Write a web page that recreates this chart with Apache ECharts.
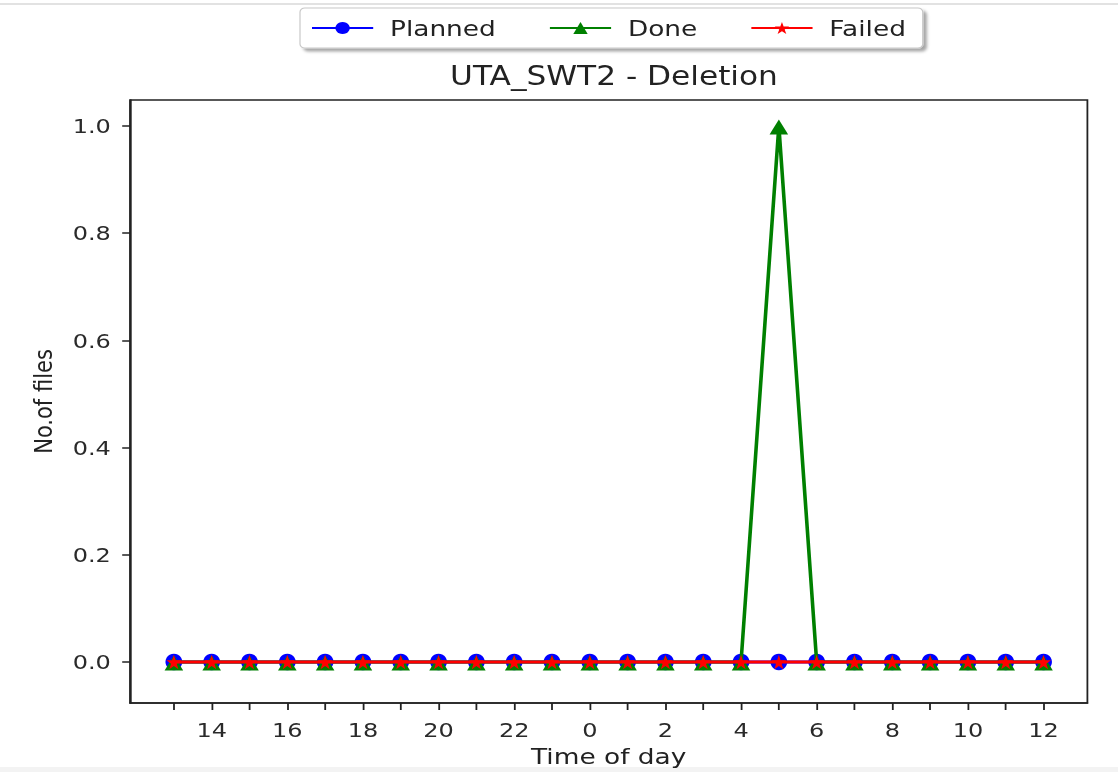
<!DOCTYPE html>
<html>
<head>
<meta charset="utf-8">
<title>UTA_SWT2 - Deletion</title>
<script src="https://cdn.jsdelivr.net/npm/echarts@6/dist/echarts.min.js"></script>
<style>
  html, body { margin: 0; padding: 0; background: #fff; overflow: hidden; }
  /* the source picture is stretched sideways, so the chart is drawn narrower and widened */
  #chart { width: 931.67px; height: 772px; transform: scaleX(1.2); transform-origin: 0 0; }
</style>
</head>
<body>
<div id="chart"></div>
<script>
// hours shown on the x axis, one point per hour
var hours = [13, 14, 15, 16, 17, 18, 19, 20, 21, 22, 23, 0, 1, 2, 3, 4, 5, 6, 7, 8, 9, 10, 11, 12];
var planned = [0, 0, 0, 0, 0, 0, 0, 0, 0, 0, 0, 0, 0, 0, 0, 0, 0, 0, 0, 0, 0, 0, 0, 0];
var done    = [0, 0, 0, 0, 0, 0, 0, 0, 0, 0, 0, 0, 0, 0, 0, 0, 1, 0, 0, 0, 0, 0, 0, 0];
var failed  = [0, 0, 0, 0, 0, 0, 0, 0, 0, 0, 0, 0, 0, 0, 0, 0, 0, 0, 0, 0, 0, 0, 0, 0];
var yTicks = [0, 0.2, 0.4, 0.6, 0.8, 1.0];

var stretch = 1.2;
var textColor = '#2a2a2a';
var font = 'DejaVu Sans';

// pair each value with its hour index
var toPoints = function (arr) {
  var out = [];
  for (var i = 0; i < arr.length; i++) {
    out.push([i, arr[i]]);
  }
  return out;
};

var allIdx = [], labelIdx = [];
for (var i = 0; i < hours.length; i++) {
  allIdx.push(i);
  if (hours[i] % 2 === 0) labelIdx.push(i);
}

var chart = echarts.init(document.getElementById('chart'), null, { renderer: 'svg' });

var option = {
  animation: false,
  backgroundColor: '#fff',
  textStyle: { fontFamily: font },
  title: {
    text: 'UTA_SWT2 - Deletion',
    left: 608 / stretch,
    textAlign: 'center',
    top: 58,
    textStyle: { fontFamily: font, fontSize: 26, fontWeight: 'normal', color: '#222' }
  },
  legend: {
    top: 8,
    left: 250,
    itemWidth: 51,
    itemHeight: 15,
    itemGap: 44,
    padding: [9, 14, 9, 9],
    backgroundColor: '#fff',
    borderColor: '#c8c8c8',
    borderWidth: 1,
    borderRadius: 4,
    shadowColor: 'rgba(0,0,0,0.35)',
    shadowBlur: 3,
    shadowOffsetX: 3,
    shadowOffsetY: 3,
    textStyle: { fontFamily: font, fontSize: 22, color: '#222', padding: [0, 0, 0, 9] },
    data: ['Planned', 'Done', 'Failed']
  },
  grid: {
    left: 130 / stretch,
    top: 100,
    right: 31 / stretch,
    bottom: 69,
    outerBoundsMode: 'none',
    containLabel: false,
    show: true,
    borderColor: '#222',
    borderWidth: 1.5,
    backgroundColor: 'transparent'
  },
  xAxis: {
    type: 'value',
    min: -1.16,
    max: 24.16,
    name: 'Time of day',
    nameLocation: 'middle',
    nameGap: 41,
    nameTextStyle: { fontFamily: font, fontSize: 22, color: '#222' },
    splitLine: { show: false },
    axisLine: { show: true, onZero: false, lineStyle: { color: '#222', width: 1.5 } },
    axisTick: { show: true, length: 7, customValues: allIdx, lineStyle: { color: '#222', width: 1.5 } },
    axisLabel: {
      customValues: labelIdx,
      margin: 17,
      fontSize: 20,
      color: textColor,
      formatter: function (v) { return String(hours[Math.round(v)]); }
    }
  },
  yAxis: {
    type: 'value',
    min: -0.0765,
    max: 1.0485,
    name: 'No.of files',
    nameLocation: 'middle',
    nameGap: 62,
    nameTextStyle: { fontFamily: font, fontSize: 21, color: '#222' },
    splitLine: { show: false },
    axisLine: { show: true, onZero: false, lineStyle: { color: '#222', width: 1.5 } },
    axisTick: { show: true, length: 6.5, customValues: yTicks, lineStyle: { color: '#222', width: 1.5 } },
    axisLabel: {
      customValues: yTicks,
      margin: 16,
      fontSize: 20,
      color: textColor,
      formatter: function (v) { return v.toFixed(1); }
    }
  },
  series: [
    {
      name: 'Planned',
      type: 'line',
      data: toPoints(planned),
      color: '#0000ff',
      symbol: 'circle',
      symbolSize: [14, 16.5],
      showAllSymbol: true,
      lineStyle: { width: 3, color: '#0000ff' },
      itemStyle: { color: '#0000ff' },
      z: 2
    },
    {
      name: 'Done',
      type: 'line',
      data: toPoints(done),
      color: '#008000',
      symbol: 'triangle',
      symbolSize: [15.5, 15],
      symbolOffset: [0, 1],
      showAllSymbol: true,
      lineStyle: { width: 3, color: '#008000' },
      itemStyle: { color: '#008000' },
      z: 3
    },
    {
      name: 'Failed',
      type: 'line',
      data: toPoints(failed),
      color: '#ff0000',
      symbol: 'path://M50,0 L61,35 L98,35 L68,57 L79,91 L50,70 L21,91 L32,57 L2,35 L39,35 Z',
      symbolSize: [12.5, 14.5],
      showAllSymbol: true,
      lineStyle: { width: 3, color: '#ff0000' },
      itemStyle: { color: '#ff0000' },
      z: 4
    }
  ],
  graphic: [
    { type: 'rect', shape: { x: 0, y: 3, width: 1118 / stretch, height: 2 }, style: { fill: '#e2e2e2' }, silent: true, z: -1 },
    { type: 'rect', shape: { x: 0, y: 767, width: 1118 / stretch, height: 5 }, style: { fill: '#f3f3f3' }, silent: true, z: -1 }
  ]
};

chart.setOption(option);
</script>
</body>
</html>
